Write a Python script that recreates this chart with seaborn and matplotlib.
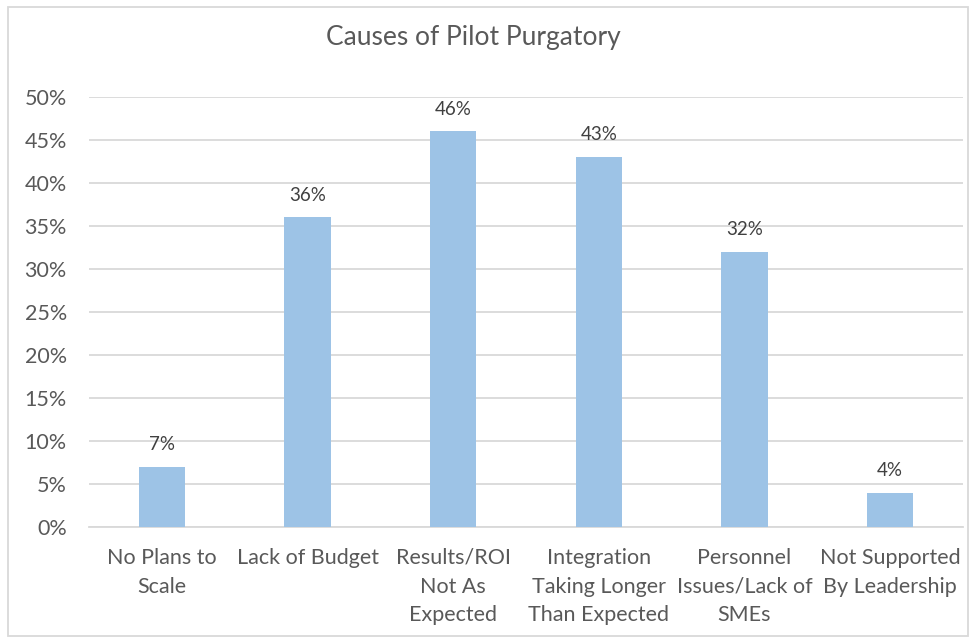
import matplotlib
matplotlib.use("Agg")
import matplotlib.pyplot as plt
import seaborn as sns
import pandas as pd
from matplotlib.patches import Rectangle
from matplotlib.ticker import FuncFormatter, MultipleLocator

categories = ["No Plans to\nScale", "Lack of Budget", "Results/ROI\nNot As\nExpected",
              "Integration\nTaking Longer\nThan Expected", "Personnel\nIssues/Lack of\nSMEs",
              "Not Supported\nBy Leadership"]
values = [7, 36, 46, 43, 32, 4]
title = "Causes of Pilot Purgatory"

sns.set_theme(style="white")
plt.rcParams['font.family'] = ['Lato', 'DejaVu Sans']
txt = "#595959"

df = pd.DataFrame({"cat": categories, "val": values})
fig = plt.figure(figsize=(9.72, 6.43), dpi=100)
ax = fig.add_axes([89/972, 1-527/643, (963-89)/972, (527-97)/643])
sns.barplot(data=df, x="cat", y="val", color="#9DC3E6", width=0.32, saturation=1,
            linewidth=0, ax=ax, zorder=3)
ax.set_ylim(0, 50)
ax.yaxis.set_major_locator(MultipleLocator(5))
ax.yaxis.set_major_formatter(FuncFormatter(lambda v, p: f"{int(v)}%"))
ax.grid(axis="y", color="#D9D9D9", linewidth=1.3, zorder=0)
for s in ["top", "right", "left"]:
    ax.spines[s].set_visible(False)
ax.spines["bottom"].set_color("#D9D9D9")
ax.spines["bottom"].set_linewidth(1.3)
ax.set_xlabel("")
ax.set_ylabel("")
ax.tick_params(axis="y", colors=txt, labelsize=15.5, length=0, pad=16)
ax.tick_params(axis="x", colors=txt, labelsize=15.5, length=0, pad=15)
for lab in ax.get_xticklabels():
    lab.set_linespacing(1.55)
for c in ax.containers:
    ax.bar_label(c, labels=[f"{v}%" for v in values], padding=10, color="#404040", fontsize=13.5)
fig.text(473/972, 1-37/643, title, ha="center", va="center", fontsize=19, color=txt)
fig.patches.append(Rectangle((8/972, 7/643), 960/972, 629/643, transform=fig.transFigure,
                             fill=False, edgecolor="#D9D9D9", linewidth=1.3))
fig.savefig("out.png", dpi=100, facecolor="white")
